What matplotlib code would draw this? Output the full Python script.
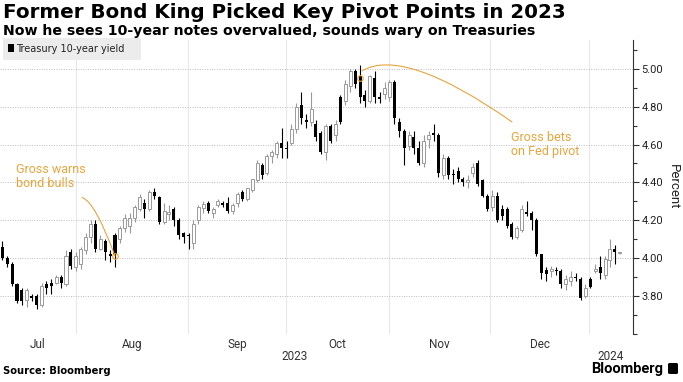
import matplotlib
matplotlib.use('Agg')
import matplotlib.pyplot as plt
from matplotlib.patches import Rectangle, FancyBboxPatch
import numpy as np

plt.rcParams['font.family'] = ['Roboto', 'DejaVu Sans']

# daily 10-year Treasury yield candles, 10 Jul 2023 .. 9 Jan 2024 (trading days)
opens = [4.06, 4.00, 3.97, 3.86, 3.83, 3.78, 3.80, 3.80, 3.75, 3.86,
         3.87, 3.87, 3.90, 3.86, 4.03, 3.95, 3.97, 4.04, 4.11, 4.18,
         4.05, 4.09, 4.02, 4.12, 4.10, 4.16, 4.17, 4.21, 4.26, 4.29,
         4.26, 4.35, 4.32, 4.19, 4.235, 4.26, 4.20, 4.13, 4.12, 4.08,
         4.20, 4.265, 4.29, 4.24, 4.28, 4.29, 4.29, 4.25, 4.29, 4.35,
         4.31, 4.36, 4.41, 4.49, 4.45, 4.54, 4.55, 4.61, 4.58, 4.61,
         4.68, 4.81, 4.73, 4.72, 4.71, 4.66, 4.56, 4.70, 4.65, 4.85,
         4.83, 4.91, 4.99, 4.96, 4.86, 4.83, 4.95, 4.85, 4.87, 4.85,
         4.93, 4.72, 4.67, 4.59, 4.64, 4.58, 4.50, 4.63, 4.66, 4.65,
         4.44, 4.53, 4.445, 4.46, 4.42, 4.40, 4.45, 4.50, 4.41, 4.33,
         4.27, 4.33, 4.26, 4.26, 4.18, 4.11, 4.15, 4.245, 4.24, 4.20,
         4.02, 3.935, 3.93, 3.935, 3.93, 3.86, 3.88, 3.90, 3.89, 3.80,
         3.89, 3.93, 3.95, 3.91, 3.99, 4.05, 4.025]
highs = [4.09, 4.01, 3.98, 3.87, 3.84, 3.84, 3.81, 3.81, 3.87, 3.88,
         3.89, 3.91, 3.91, 4.04, 4.05, 4.03, 4.06, 4.13, 4.20, 4.20,
         4.12, 4.10, 4.04, 4.13, 4.17, 4.23, 4.24, 4.28, 4.34, 4.31,
         4.36, 4.37, 4.33, 4.29, 4.28, 4.27, 4.21, 4.14, 4.13, 4.20,
         4.28, 4.30, 4.30, 4.27, 4.31, 4.30, 4.32, 4.29, 4.35, 4.36,
         4.37, 4.42, 4.52, 4.50, 4.55, 4.57, 4.62, 4.69, 4.62, 4.71,
         4.82, 4.88, 4.76, 4.88, 4.73, 4.67, 4.71, 4.71, 4.73, 4.86,
         4.94, 5.00, 5.00, 5.02, 4.89, 4.97, 4.99, 4.88, 4.93, 4.94,
         4.94, 4.74, 4.68, 4.67, 4.67, 4.62, 4.65, 4.67, 4.71, 4.66,
         4.55, 4.54, 4.47, 4.48, 4.43, 4.44, 4.50, 4.52, 4.42, 4.34,
         4.36, 4.35, 4.28, 4.27, 4.19, 4.17, 4.28, 4.30, 4.25, 4.21,
         4.02, 3.95, 3.96, 3.95, 3.94, 3.91, 3.93, 3.92, 3.90, 3.86,
         3.90, 3.97, 4.01, 4.01, 4.10, 4.07, 4.03]
lows = [3.99, 3.95, 3.85, 3.76, 3.75, 3.74, 3.77, 3.73, 3.74, 3.81,
        3.81, 3.86, 3.84, 3.85, 3.94, 3.93, 3.94, 4.02, 4.08, 4.03,
        4.04, 3.99, 3.98, 3.95, 4.08, 4.14, 4.13, 4.19, 4.25, 4.21,
        4.25, 4.31, 4.18, 4.18, 4.20, 4.17, 4.10, 4.08, 4.05, 4.05,
        4.18, 4.24, 4.24, 4.21, 4.27, 4.27, 4.24, 4.23, 4.27, 4.30,
        4.30, 4.35, 4.40, 4.42, 4.44, 4.50, 4.53, 4.53, 4.53, 4.60,
        4.66, 4.71, 4.69, 4.70, 4.62, 4.55, 4.52, 4.61, 4.62, 4.71,
        4.81, 4.88, 4.90, 4.82, 4.80, 4.82, 4.82, 4.82, 4.84, 4.83,
        4.71, 4.64, 4.49, 4.57, 4.55, 4.49, 4.48, 4.58, 4.62, 4.43,
        4.42, 4.42, 4.39, 4.40, 4.38, 4.37, 4.43, 4.38, 4.32, 4.25,
        4.25, 4.19, 4.20, 4.16, 4.10, 4.10, 4.14, 4.22, 4.15, 4.01,
        3.89, 3.88, 3.90, 3.91, 3.84, 3.83, 3.85, 3.88, 3.78, 3.79,
        3.84, 3.92, 3.89, 3.89, 3.95, 3.97, 4.02]
closes = [4.00, 3.97, 3.86, 3.77, 3.77, 3.83, 3.79, 3.75, 3.85, 3.84,
          3.85, 3.90, 3.87, 4.01, 3.96, 4.01, 4.05, 4.11, 4.18, 4.05,
          4.10, 4.03, 4.01, 4.02, 4.16, 4.21, 4.21, 4.27, 4.32, 4.26,
          4.35, 4.33, 4.19, 4.25, 4.245, 4.20, 4.12, 4.11, 4.115, 4.18,
          4.27, 4.285, 4.25, 4.26, 4.30, 4.28, 4.25, 4.28, 4.34, 4.31,
          4.37, 4.42, 4.50, 4.44, 4.54, 4.56, 4.61, 4.58, 4.575, 4.68,
          4.80, 4.74, 4.72, 4.79, 4.64, 4.56, 4.70, 4.62, 4.71, 4.72,
          4.92, 4.99, 4.92, 4.85, 4.83, 4.96, 4.85, 4.84, 4.90, 4.93,
          4.74, 4.67, 4.58, 4.65, 4.58, 4.50, 4.62, 4.65, 4.65, 4.45,
          4.53, 4.44, 4.44, 4.42, 4.40, 4.41, 4.48, 4.39, 4.33, 4.26,
          4.33, 4.20, 4.22, 4.17, 4.11, 4.16, 4.26, 4.235, 4.20, 4.02,
          3.92, 3.915, 3.94, 3.93, 3.86, 3.89, 3.90, 3.895, 3.79, 3.84,
          3.845, 3.94, 3.92, 3.995, 4.05, 4.03, 4.025]

# month boundaries (trading-day index) and labels
month_edges = [-0.47, 15.0, 37.9, 57.9, 78.9, 99.6, 119.7]
month_names = ['Jul', 'Aug', 'Sep', 'Oct', 'Nov', 'Dec']
years = ['2023', '2024']
yticks = [3.80, 4.00, 4.20, 4.40, 4.60, 4.80, 5.00]

orange = '#e8a53c'
W, H = 683, 382

fig = plt.figure(figsize=(W / 100, H / 100), dpi=100)
ax = fig.add_axes([0, (H - 333.6) / H, 633 / W, (333.6 - 40) / H])

o, h, l, c = map(np.array, (opens, highs, lows, closes))
x = np.arange(len(o))
up = c >= o
bottom = np.minimum(o, c)
height = np.maximum(np.abs(c - o), 0.006)

ax.vlines(x[up], l[up], h[up], color='#9a9a9a', lw=0.8, zorder=2)
ax.vlines(x[~up], l[~up], h[~up], color='black', lw=0.8, zorder=2)
ax.bar(x[up], height[up], bottom=bottom[up], width=0.62, facecolor='white',
       edgecolor='#9a9a9a', lw=0.7, zorder=3)
ax.bar(x[~up], height[~up], bottom=bottom[~up], width=0.62, color='black',
       lw=0, zorder=3)

ax.set_xlim(-0.47, 128.7)
ax.set_ylim(3.60, 5.153)

for e in month_edges[1:]:
    ax.axvline(e, color='#e8e8e8', lw=0.8, zorder=0)
for v in yticks:
    ax.axhline(v, color='#bdbdbd', lw=0.7, ls=(0, (1, 1.5)), zorder=0)

for s in ['top', 'left', 'bottom']:
    ax.spines[s].set_visible(False)
ax.spines['right'].set_color('#333333')
ax.spines['right'].set_linewidth(0.8)

ax.yaxis.tick_right()
ax.set_yticks(yticks)
ax.set_yticklabels([f'{v:.2f}' for v in yticks])
ax.set_yticks(np.arange(3.6, 5.16, 0.1), minor=True)
ax.tick_params(axis='y', which='major', length=4, width=0.8, color='#333333',
               labelsize=8, labelcolor='#222222', pad=2)
ax.tick_params(axis='y', which='minor', length=3, width=0.8, color='#333333')
ax.yaxis.set_label_position('right')
ax.set_ylabel('Percent', rotation=270, fontsize=9.5, color='#222222', labelpad=12)

mids = [(month_edges[i] + month_edges[i + 1]) / 2 for i in range(len(month_names))]
ax.set_xticks(mids)
ax.set_xticklabels(month_names)
ax.tick_params(axis='x', length=0, labelsize=8.5, labelcolor='#333333', pad=3)

trans = ax.get_xaxis_transform()
ax.text((month_edges[0] + month_edges[-1]) / 2, -0.078, years[0], transform=trans,
        ha='center', va='center', fontsize=8.5, color='#333333')
ax.text((month_edges[-1] + 128.7) / 2, -0.078, years[1], transform=trans,
        ha='center', va='center', fontsize=8.5, color='#333333')

# annotations
ax.text(2.7, 4.43, 'Gross warns\nbond bulls', fontsize=9, color=orange,
        ha='left', va='center', linespacing=1.15)
ax.annotate('', xy=(23, 4.01), xytext=(16.3, 4.32),
            arrowprops=dict(arrowstyle='-', color=orange, lw=0.8, shrinkA=0, shrinkB=0,
                            connectionstyle='angle3,angleA=-20,angleB=110'))
ax.plot([23], [4.01], marker='o', ms=4, mfc='none', mec=orange, mew=0.8, zorder=4)

ax.text(103.8, 4.60, 'Gross bets\non Fed pivot', fontsize=9, color=orange,
        ha='left', va='center', linespacing=1.15)
ax.annotate('', xy=(73.4, 4.99), xytext=(104.0, 4.72),
            arrowprops=dict(arrowstyle='-', color=orange, lw=0.8, shrinkA=0, shrinkB=0,
                            connectionstyle='angle3,angleA=145,angleB=30'))
ax.plot([73], [4.95], marker='o', ms=4, mfc='none', mec=orange, mew=0.8, zorder=4)

# legend box
fig.patches.append(Rectangle((3 / W, 1 - 60 / H), 138 / W, 22 / H,
                             transform=fig.transFigure, facecolor='#ececec',
                             edgecolor='none', zorder=1))
fig.patches.append(Rectangle((8 / W, 1 - 51.5 / H), 6 / W, 7 / H,
                             transform=fig.transFigure, facecolor='black',
                             edgecolor='none', zorder=2))
fig.text(16 / W, 1 - 48.5 / H, 'Treasury 10-year yield', fontsize=7, color='#222222',
         ha='left', va='center', family='DejaVu Sans')

# titles and footer
fig.text(3 / W, 1 - 13 / H, 'Former Bond King Picked Key Pivot Points in 2023',
         fontsize=14.3, fontweight='bold', ha='left', va='center', family='DejaVu Sans')
fig.text(3 / W, 1 - 31 / H, 'Now he sees 10-year notes overvalued, sounds wary on Treasuries',
         fontsize=10.2, fontweight='bold', ha='left', va='center', family='DejaVu Sans')
fig.text(3 / W, 1 - 371 / H, 'Source: Bloomberg', fontsize=7.2, fontweight='bold',
         ha='left', va='center', family='DejaVu Sans')
fig.text(663 / W, 1 - 369 / H, 'Bloomberg', fontsize=10.5, fontweight='bold',
         ha='right', va='center')
fig.patches.append(FancyBboxPatch((668 / W, 1 - 374 / H), 10 / W, 11 / H,
                                  boxstyle='round,pad=0,rounding_size=0.003',
                                  transform=fig.transFigure, facecolor='black',
                                  edgecolor='none'))

fig.savefig('out.png', dpi=100)
